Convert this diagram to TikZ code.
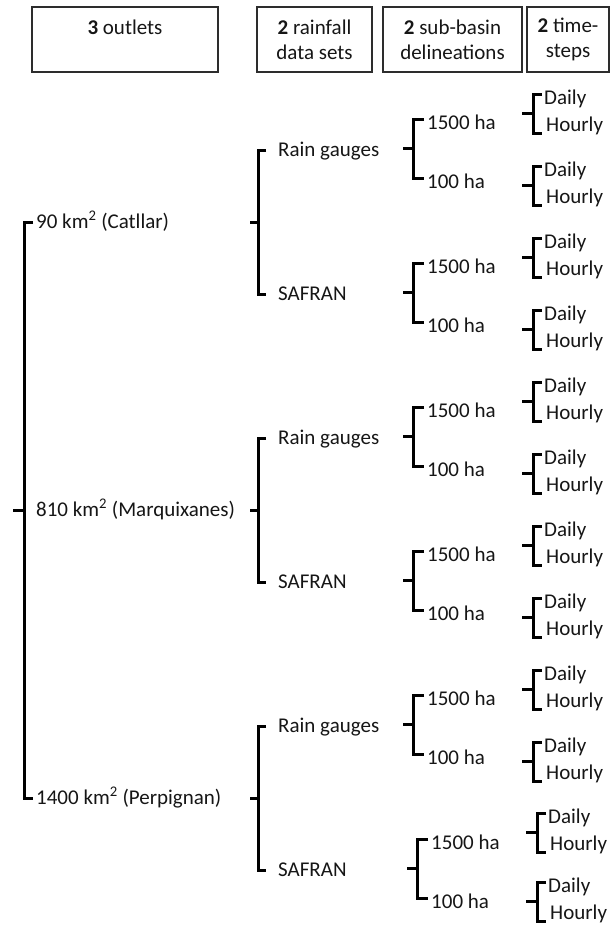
\documentclass[tikz,border=0pt]{standalone}
\usepackage{fontspec}
\setmainfont{Carlito}
\usetikzlibrary{calc}
\definecolor{txtc}{RGB}{22,22,22}
\definecolor{boxc}{RGB}{45,45,45}
\begin{document}
\begin{tikzpicture}[x=1pt,y=-1pt,
  lbl/.style={font=\fontsize{21}{25}\selectfont, text=txtc, inner ysep=0pt, anchor=west},
  midt/.style={lbl, text height=15pt, text depth=2pt},
  hit/.style={lbl, text height=23pt, text depth=2pt},
  lowt/.style={lbl, text height=0pt, text depth=3pt},
  hdr/.style={draw=boxc, line width=1.5pt, font=\fontsize{21}{25}\selectfont, text=txtc, align=center, minimum height=65pt, inner sep=0pt},
  br/.style={line width=3pt, draw=black}]

\fill[white] (0,0) rectangle (611,926);
\useasboundingbox (0,0) rectangle (611,926);

% header boxes
\node[hdr, minimum width=186pt] (h1) at (125,39.5) {\textbf{3} outlets\\\mbox{}};
\node[hdr, minimum width=115pt] (h2) at (314.5,39.5) {\textbf{2} rainfall\\data sets};
\node[hdr, minimum width=139pt] (h3) at (452.5,39.5) {\textbf{2} sub-basin\\delineations};
\node[hdr, minimum width=82pt] (h4) at (568,39.5) {\textbf{2} time-\\steps};

% level 1: outlets
\coordinate (root) at (13,510);
\foreach \i/\t in {0/{90 km\textsuperscript{2} (Catllar)},1/{810 km\textsuperscript{2} (Marquixanes)},2/{1400 km\textsuperscript{2} (Perpignan)}} {
  \node[midt, inner xsep=3pt] (o\i) at (33,222+288*\i) {\t};
}
\draw[br] (o0.west) -- ++(-9,0) |- (o2.west);
\draw[br] (root) -- ($(o0.west)!0.5!(o2.west)+(-9,0)$);

% level 2: rainfall data sets
\foreach \i in {0,1,2} {
  \node[midt, inner xsep=12pt] (rg\i) at (266,150+288*\i) {Rain gauges};
  \node[midt, inner xsep=12pt] (sf\i) at (266,294+288*\i) {SAFRAN};
  \draw[br] (rg\i.west) -- ++(-8,0) |- (sf\i.west);
  \draw[br] ($(rg\i.west)!0.5!(sf\i.west)+(-16,0)$) -- ++(8,0);
}

% level 3: sub-basin delineations
\foreach \m/\s in {0/0,1/0,2/0,3/0,4/0,5/4} {
  \node[hit, inner xsep=3pt] (a\m) at (424+\s,119+144*\m) {1500 ha};
  \node[hit, inner xsep=3pt] (b\m) at (424+\s,178+144*\m) {100 ha};
  \draw[br] (a\m.west) -- ++(-11,0) |- (b\m.west);
  \draw[br] ($(a\m.west)!0.5!(b\m.west)+(-21,0)$) -- ++(10,0);
}

% level 4: time-steps
\foreach \n/\s/\d in {0/0/0,1/0/0,2/0/0,3/0/0,4/0/0,5/0/0,6/0/0,7/0/0,8/0/0,9/0/0,10/4/-1,11/4/-4} {
  \node[hit, inner xsep=2pt] (td\n) at (542+\s,94+72*\n+\d) {Daily};
  \node[lowt, inner xsep=4pt] (th\n) at (542+\s,133+72*\n+\d) {Hourly};
  \draw[br] (td\n.west) -- ++(-9,0) |- (th\n.west);
  \draw[br] ($(td\n.west)!0.5!(th\n.west)+(-20,0)$) -- ++(11,0);
}
\end{tikzpicture}
\end{document}
